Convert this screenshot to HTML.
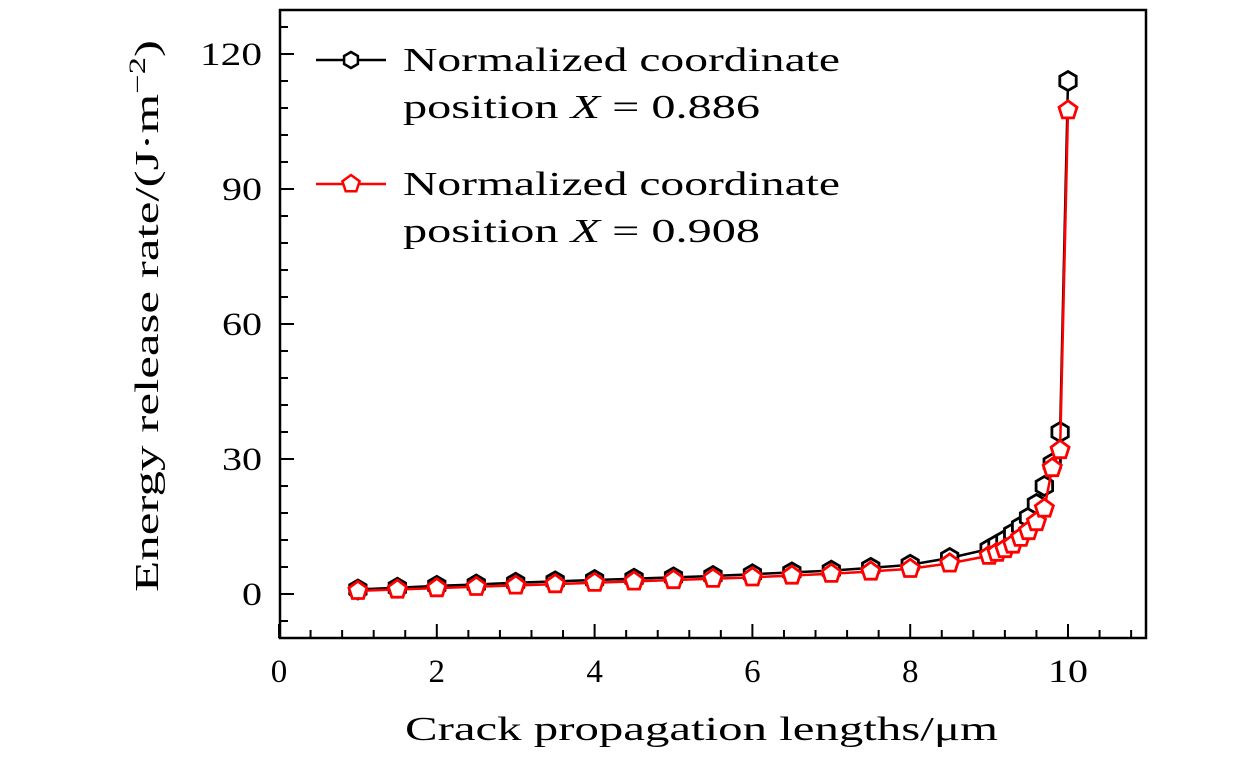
<!DOCTYPE html>
<html><head><meta charset="utf-8"><style>
html,body{margin:0;padding:0;background:#fff;}
svg{display:block;font-family:"Liberation Serif",serif;}
</style></head><body>
<svg width="1260" height="759" viewBox="0 0 1260 759" xmlns="http://www.w3.org/2000/svg">
<defs>
<clipPath id="c"><rect x="280" y="10" width="866" height="628"/></clipPath>
</defs>
<g id="ticks" stroke="#000" stroke-width="2"></g>
<rect x="280" y="10" width="866" height="628" fill="none" stroke="#000" stroke-width="2.5"/>
<g font-size="33" fill="#000" text-anchor="middle" id="xl"></g>
<g font-size="33" fill="#000" text-anchor="end" id="yl"></g>
<text x="405" y="740" font-size="34" textLength="593" lengthAdjust="spacingAndGlyphs">Crack propagation lengths/μm</text>
<text transform="translate(158,592) rotate(-90)" font-size="34" textLength="552" lengthAdjust="spacingAndGlyphs">Energy release rate/(J·m<tspan font-size="23" dy="-13">−2</tspan><tspan dy="13">)</tspan></text>
<g clip-path="url(#c)" id="data"></g>
<g font-size="34">
<line x1="316" y1="60" x2="386" y2="60" stroke="#000" stroke-width="2.5"/>
<polygon id="lh" fill="#fff" stroke="#000" stroke-width="2.5"/>
<text x="403" y="71" textLength="437" lengthAdjust="spacingAndGlyphs">Normalized coordinate</text>
<text x="403" y="118" textLength="357" lengthAdjust="spacingAndGlyphs">position <tspan font-style="italic">X</tspan> = 0.886</text>
<line x1="316" y1="184" x2="386" y2="184" stroke="#f00" stroke-width="2.5"/>
<polygon id="lp" fill="#fff" stroke="#f00" stroke-width="2.5"/>
<text x="403" y="195" textLength="437" lengthAdjust="spacingAndGlyphs">Normalized coordinate</text>
<text x="403" y="242" textLength="357" lengthAdjust="spacingAndGlyphs">position <tspan font-style="italic">X</tspan> = 0.908</text>
</g>
</svg>
<script>
const NS="http://www.w3.org/2000/svg";
const X=v=>279+78.9*v, Y=v=>594-4.5*v;
function el(p,t,a){const e=document.createElementNS(NS,t);for(const k in a)e.setAttribute(k,a[k]);p.appendChild(e);return e;}
const tk=document.getElementById('ticks');
for(let i=0;i<=27;i++){const v=i*0.4,x=X(v);if(x>1146)break;const maj=i%5==0;el(tk,'line',{x1:x,y1:638,x2:x,y2:638-(maj?14:8)});}
for(let v=-6;v<=126;v+=6){const y=Y(v);const maj=v%30==0;el(tk,'line',{x1:280,y1:y,x2:280+(maj?14:8),y2:y});}
const xl=document.getElementById('xl');
for(let v=0;v<=10;v+=2){const t=el(xl,'text',{x:X(v),y:682});t.textContent=v;if(v==10){t.setAttribute('textLength','40');t.setAttribute('lengthAdjust','spacingAndGlyphs');}}
const yl=document.getElementById('yl');
for(let v=0;v<=120;v+=30){const t=el(yl,'text',{x:262,y:Y(v)+11});t.textContent=v;const w={0:20,30:40,60:40,90:40,120:62}[v];t.setAttribute('textLength',w);t.setAttribute('lengthAdjust','spacingAndGlyphs');}
const xs=[1,1.5,2,2.5,3,3.5,4,4.5,5,5.5,6,6.5,7,7.5,8,8.5,9,9.1,9.2,9.3,9.4,9.5,9.6,9.7,9.8,9.9,10];
const b=[1,1.4,1.8,2.1,2.5,2.8,3.1,3.4,3.7,4,4.4,4.8,5.2,5.8,6.5,8,10,11,12,13.5,15,17,20,24,29,36,114];
const r=[0.7,1,1.3,1.6,1.9,2.2,2.5,2.8,3.1,3.4,3.7,4.1,4.5,5,5.6,6.8,8.5,9.2,10,11,12.5,14,16,19,28,32,107.5];
function poly(cx,cy,n,rad,rot){let p=[];for(let i=0;i<n;i++){const a=rot+i*2*Math.PI/n;p.push((cx+rad*Math.cos(a)).toFixed(1)+','+(cy+rad*Math.sin(a)).toFixed(1));}return p.join(' ');}
const d=document.getElementById('data');
function series(vals,col,n,rot){el(d,'polyline',{points:xs.map((x,i)=>X(x)+','+Y(vals[i])).join(' '),fill:'none',stroke:col,'stroke-width':2.5});
xs.forEach((x,i)=>el(d,'polygon',{points:poly(X(x),Y(vals[i]),n,9.5,rot),fill:'#fff',stroke:col,'stroke-width':2.8}));}
series(b,'#000',6,Math.PI/6);
series(r,'#f00',5,-Math.PI/2);
document.getElementById('lh').setAttribute('points',poly(351,60,6,8,Math.PI/6));
document.getElementById('lp').setAttribute('points',poly(351,184,5,9,-Math.PI/2));
</script>
</body></html>
